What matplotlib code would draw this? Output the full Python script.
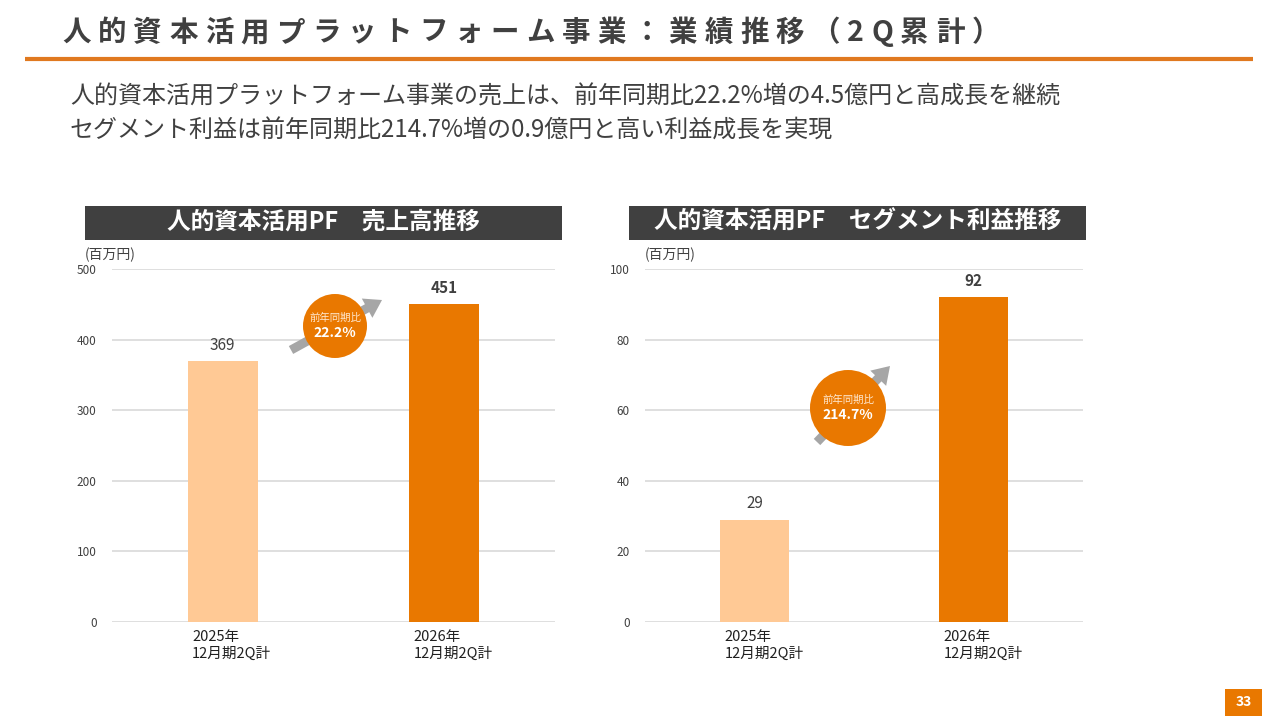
import matplotlib
matplotlib.use("Agg")
import matplotlib.pyplot as plt
from matplotlib.patches import Rectangle, Circle, FancyArrow
from matplotlib.transforms import blended_transform_factory

plt.rcParams['font.family'] = ['Noto Sans CJK JP', 'DejaVu Sans']

# ---- data ----
categories = ["2025年\n12月期2Q計", "2026年\n12月期2Q計"]
sales = [369, 451]
profit = [29, 92]
sales_growth = "22.2%"
profit_growth = "214.7%"
sales_ticks = [0, 100, 200, 300, 400, 500]
profit_ticks = [0, 20, 40, 60, 80, 100]

title = "人的資本活用プラットフォーム事業：業績推移（2Q累計）"
sub1 = "人的資本活用プラットフォーム事業の売上は、前年同期比22.2%増の4.5億円と高成長を継続"
sub2 = "セグメント利益は前年同期比214.7%増の0.9億円と高い利益成長を実現"
head_left = "人的資本活用PF　売上高推移"
head_right = "人的資本活用PF　セグメント利益推移"
unit = "(百万円)"
page = "33"

LIGHT = "#FFC995"
DARK = "#E97800"
TXT = "#404040"
GRID = "#D9D9D9"

W, H = 1280, 720
fig = plt.figure(figsize=(12.8, 7.2), dpi=100)
fig.patch.set_facecolor("white")

def px_axes(x0, y0, x1, y1):
    return fig.add_axes([x0 / W, (H - y1) / H, (x1 - x0) / W, (y1 - y0) / H])

def bar_chart(ax, values, ticks, bold_idx):
    xs = list(range(len(values)))
    bw = 0.316
    ax.bar(xs, values, width=bw, color=[LIGHT, DARK], zorder=3)
    ax.set_xlim(-0.5, 1.5)
    ax.set_ylim(ticks[0], ticks[-1])
    ax.set_yticks(ticks)
    ax.set_yticklabels([str(t) for t in ticks], fontsize=8.5, color=TXT)
    ax.tick_params(axis="y", length=0, pad=11)
    ax.set_xticks([])
    ax.grid(axis="y", color=GRID, linewidth=1.2, zorder=0)
    for s in ax.spines.values():
        s.set_visible(False)
    off = (ticks[-1] - ticks[0]) * 0.022
    for i, v in enumerate(values):
        ax.text(i, v + off, str(v), ha="center", va="bottom", fontsize=11,
                color=TXT, fontweight="bold" if i == bold_idx else "normal", zorder=4)
    tr = blended_transform_factory(ax.transData, ax.transAxes)
    for i, c in enumerate(categories):
        ax.text(i - bw / 2 + 0.02, -0.022, c, transform=tr, ha="left", va="top",
                fontsize=10.5, color="#202020", linespacing=1.25)

axL = px_axes(112, 269, 555, 622)
bar_chart(axL, sales, sales_ticks, 1)
axR = px_axes(645, 269, 1083, 622)
bar_chart(axR, profit, profit_ticks, 1)

# overlay for decorations
ov = fig.add_axes([0, 0, 1, 1], zorder=10)
ov.set_xlim(0, W)
ov.set_ylim(H, 0)
ov.axis("off")
ov.patch.set_alpha(0)

# title with letter spacing (measured widths)
renderer = fig.canvas.get_renderer()
tobjs = []
widths = []
for ch in title:
    t = ov.text(0, 33, ch, fontsize=20.5, fontweight="bold", color=TXT,
                ha="left", va="center")
    tobjs.append(t)
    widths.append(t.get_window_extent(renderer).width)
track = (1000 - 62 - sum(widths)) / (len(title) - 1)
x = 62
for t, w in zip(tobjs, widths):
    t.set_x(x)
    x += w + track
ov.plot([25, 1253], [58.5, 58.5], color="#E0791F", linewidth=3, solid_capstyle="butt")

ov.text(70, 97, sub1, fontsize=17.3, color=TXT, ha="left", va="center")
ov.text(70, 131, sub2, fontsize=17.3, color=TXT, ha="left", va="center")

# header bars
for (x0, x1, txt) in [(85, 562, head_left), (629, 1086, head_right)]:
    ov.add_patch(Rectangle((x0, 206), x1 - x0, 34, facecolor="#404040", edgecolor="none"))
    ov.text((x0 + x1) / 2, 222, txt, fontsize=17, fontweight="bold", color="white",
            ha="center", va="center")

ov.text(85, 255, unit, fontsize=10, color=TXT, ha="left", va="center")
ov.text(645, 255, unit, fontsize=10, color=TXT, ha="left", va="center")

# growth bubbles
def bubble(cx, cy, r, ax0, ay0, ax1, ay1, pct):
    ov.add_patch(FancyArrow(ax0, ay0, ax1 - ax0, ay1 - ay0, width=9, head_width=22,
                            head_length=17, length_includes_head=True,
                            facecolor="#A6A6A6", edgecolor="none", zorder=1))
    ov.add_patch(Circle((cx, cy), r, facecolor=DARK, edgecolor="none", zorder=2))
    ov.text(cx, cy - 8, "前年同期比", fontsize=7.5, color="#FFE8D0", ha="center",
            va="center", zorder=3)
    ov.text(cx, cy + 7, pct, fontsize=10, fontweight="bold", color="white",
            ha="center", va="center", zorder=3)

bubble(335, 326, 32, 291, 350, 382, 300, sales_growth)
bubble(848, 408, 38, 817, 442, 890, 366, profit_growth)

# page number
ov.add_patch(Rectangle((1225, 689), 37, 27, facecolor=DARK, edgecolor="none"))
ov.text(1243.5, 702.5, page, fontsize=10, fontweight="bold", color="white",
        ha="center", va="center")

fig.savefig("out.png", dpi=100)
